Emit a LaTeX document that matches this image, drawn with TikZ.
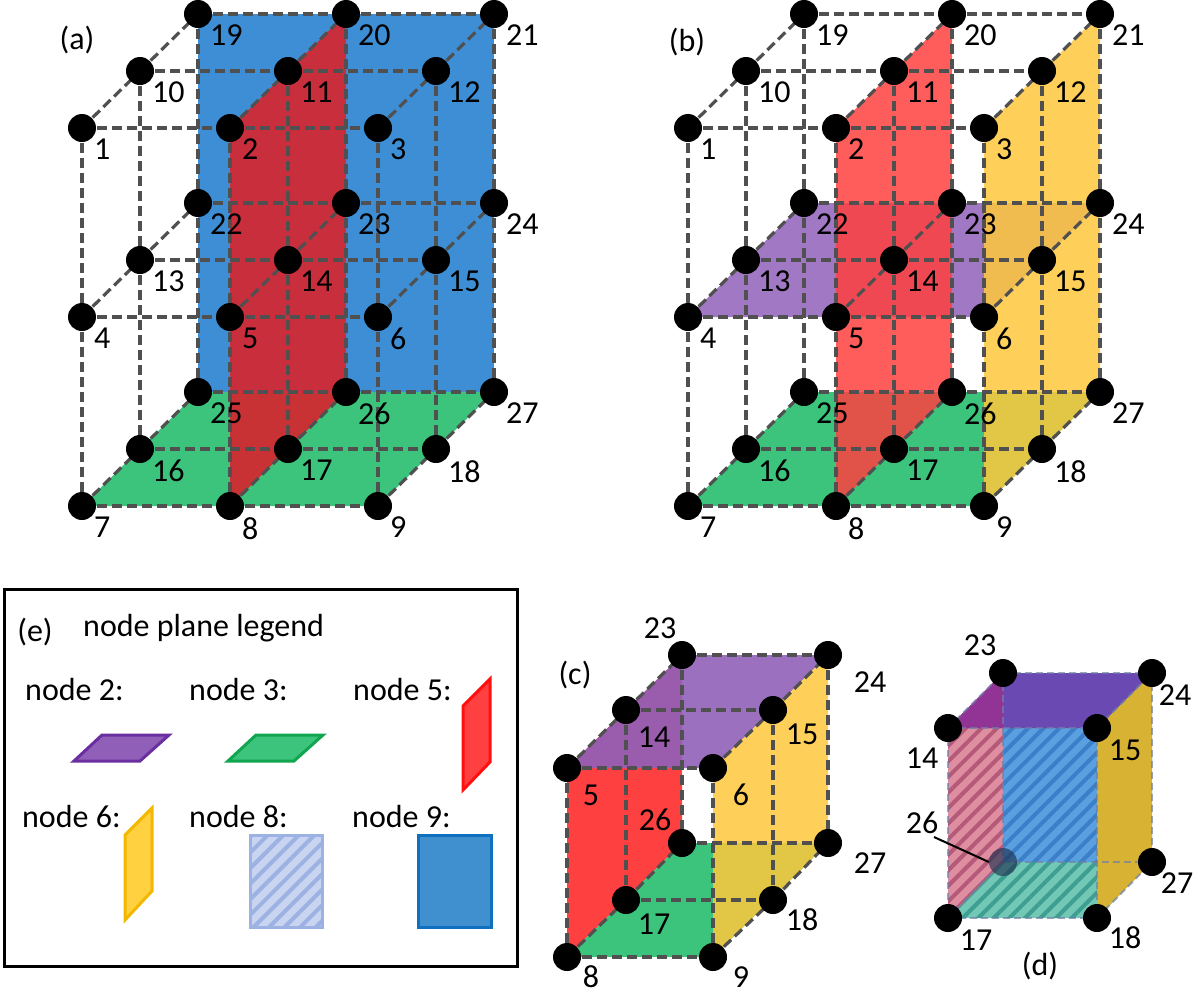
\documentclass[tikz,border=0pt]{standalone}
\usepackage{fontspec}
\setmainfont{Carlito}
\usetikzlibrary{patterns.meta}
\definecolor{ablue}{HTML}{3D8ED4}
\definecolor{ared}{HTML}{D42630}
\definecolor{agreen}{HTML}{3CC47C}
\definecolor{bred}{HTML}{FF4040}
\definecolor{bpurple}{HTML}{9060B8}
\definecolor{byellow}{HTML}{FFC83C}
\definecolor{gridc}{HTML}{505050}
\definecolor{dblue}{HTML}{5A9FE0}
\definecolor{dbluel}{HTML}{3A7FC8}
\definecolor{dgreen}{HTML}{72C8B4}
\definecolor{dgreenl}{HTML}{3E9E92}
\definecolor{dred}{HTML}{DA8296}
\definecolor{dredl}{HTML}{B45A78}
\definecolor{dyellow}{HTML}{D8B232}
\definecolor{dpurple}{HTML}{6A4AB2}
\definecolor{dmag}{HTML}{923496}
\definecolor{dedge}{HTML}{7080A8}
\definecolor{ddot}{HTML}{1E3250}
\definecolor{lpurple}{HTML}{6A2EA0}
\definecolor{lgreen}{HTML}{10A650}
\definecolor{lred}{HTML}{FF1010}
\definecolor{lyellowf}{HTML}{FFD040}
\definecolor{lyellow}{HTML}{F2B800}
\definecolor{lhf}{HTML}{C8D4F0}
\definecolor{lhs}{HTML}{9CB2E2}
\definecolor{lbluef}{HTML}{4090D0}
\definecolor{lblue}{HTML}{1070C0}
\tikzset{
  gridline/.style={draw=gridc,line width=3.2pt,dash pattern=on 10pt off 5pt},
  dot/.style={circle,fill=black,inner sep=0pt,minimum size=28pt},
  lab/.style={font=\fontsize{32}{34}\selectfont,inner sep=0pt},
  hatch/.style={pattern={Lines[angle=45,distance=11pt,line width=4pt]},pattern color=#1},
}
\begin{document}
\begin{tikzpicture}[x=1pt,y=-1pt]
\useasboundingbox (0,0) rectangle (1200,994);
% ---------- lattice coordinates
\foreach \d in {0,1,2}{\foreach \h in {0,1,2}{\foreach \c in {0,1,2}{
  \pgfmathtruncatemacro\n{1+\c+3*\h+9*\d}
  \coordinate (a\n) at ({82+148*\c+58*\d},{128+189*\h-57*\d});
  \coordinate (b\n) at ({688+148*\c+58*\d},{128+189*\h-57*\d});
}}}
% ---------- panel (a) fills
\fill[ablue] (a19) -- (a21) -- (a27) -- (a25) -- cycle;
\fill[agreen] (a7) -- (a9) -- (a27) -- (a25) -- cycle;
\fill[ared,opacity=0.92] (a2) -- (a20) -- (a26) -- (a8) -- cycle;
% ---------- panel (b) fills
\fill[agreen] (b7) -- (b9) -- (b27) -- (b25) -- cycle;
\fill[bpurple,opacity=0.85] (b4) -- (b6) -- (b24) -- (b22) -- cycle;
\fill[bred,opacity=0.85] (b2) -- (b20) -- (b26) -- (b8) -- cycle;
\fill[byellow,opacity=0.85] (b3) -- (b21) -- (b27) -- (b9) -- cycle;
% ---------- lattice lines and dots
\foreach \p in {a,b}{
\foreach \d in {0,1,2}{\foreach \h in {0,1,2}{\foreach \c in {0,1,2}{
  \pgfmathtruncatemacro\n{1+\c+3*\h+9*\d}
  \pgfmathtruncatemacro\mc{\n+1}
  \pgfmathtruncatemacro\mh{\n+3}
  \pgfmathtruncatemacro\md{\n+9}
  \ifnum\c<2 \draw[gridline] (\p\n) -- (\p\mc);\fi
  \ifnum\h<2 \draw[gridline] (\p\n) -- (\p\mh);\fi
  \ifnum\d<2 \draw[gridline] (\p\n) -- (\p\md);\fi
}}}
\foreach \n in {1,...,27}{
  \node[dot] (D\p\n) at (\p\n) {};
  \node[lab,anchor=north west] (L\p\n) at ([xshift=12pt,yshift=-11pt]D\p\n.center) {\n};
}}
\node[lab] (pa) at (77,40) {(a)};
\node[lab] (pb) at (687,42) {(b)};
% ---------- panel (c)
\coordinate (c23) at (682,655); \coordinate (c24) at (828,655);
\coordinate (c14) at (626,710); \coordinate (c15) at (773,710);
\coordinate (c5) at (567,768);  \coordinate (c6) at (713,768);
\coordinate (c26) at (682,843); \coordinate (c27) at (828,843);
\coordinate (c17) at (626,900); \coordinate (c18) at (773,900);
\coordinate (c8) at (567,957);  \coordinate (c9) at (713,957);
\fill[bred] (c5) -- (c23) -- (c26) -- (c8) -- cycle;
\fill[agreen] (c8) -- (c9) -- (c27) -- (c26) -- cycle;
\fill[bpurple,opacity=0.9] (c5) -- (c6) -- (c24) -- (c23) -- cycle;
\fill[byellow,opacity=0.85] (c6) -- (c24) -- (c27) -- (c9) -- cycle;
\foreach \u/\v in {5/6,14/15,23/24,26/27,17/18,8/9,5/8,14/17,23/26,6/9,15/18,24/27,5/14,14/23,6/15,15/24,8/17,17/26,9/18,18/27}
  \draw[gridline] (c\u) -- (c\v);
\foreach \n in {5,6,8,9,14,15,17,18,23,24,26,27} \node[dot] (Dc\n) at (c\n) {};
\node[lab] (Lc23) at (660,628) {23};
\node[lab] (Lc24) at (870,682) {24};
\node[lab] (Lc14) at (654,737) {14};
\node[lab] (Lc15) at (802,734) {15};
\node[lab] (Lc5) at (591,795) {5};
\node[lab] (Lc6) at (741,795) {6};
\node[lab] (Lc26) at (655,820) {26};
\node[lab] (Lc27) at (870,863) {27};
\node[lab] (Lc17) at (654,924) {17};
\node[lab] (Lc18) at (802,920) {18};
\node[lab] (Lc8) at (591,977) {8};
\node[lab] (Lc9) at (741,977) {9};
\node[lab] (pc) at (575,675) {(c)};
% ---------- panel (d)
\coordinate (d23) at (1003,673); \coordinate (d24) at (1152,673);
\coordinate (d14) at (948,728);  \coordinate (d15) at (1097,728);
\coordinate (d26) at (1003,862); \coordinate (d27) at (1152,862);
\coordinate (d17) at (948,918);  \coordinate (d18) at (1097,918);
\fill[dblue] (d23) -- (d24) -- (d27) -- (d26) -- cycle;
\fill[hatch=dbluel] (d23) -- (d24) -- (d27) -- (d26) -- cycle;
\fill[dgreen] (d17) -- (d18) -- (d27) -- (d26) -- cycle;
\fill[hatch=dgreenl] (d17) -- (d18) -- (d27) -- (d26) -- cycle;
\fill[dred,opacity=0.9] (d14) -- (d23) -- (d26) -- (d17) -- cycle;
\fill[hatch=dredl] (d14) -- (d23) -- (d26) -- (d17) -- cycle;
\fill[dyellow] (d15) -- (d24) -- (d27) -- (d18) -- cycle;
\fill[dpurple] (d14) -- (d15) -- (d24) -- (d23) -- cycle;
\fill[dmag] (d14) -- (d23) -- (1003,728) -- cycle;
\foreach \u/\v in {14/15,23/24,26/27,17/18,14/17,23/26,15/18,24/27,14/23,15/24,17/26,18/27}
  \draw[draw=dedge,line width=2pt,dash pattern=on 7pt off 4pt,opacity=0.7] (d\u) -- (d\v);
\foreach \n in {14,15,17,18,23,24,27} \node[dot] (Dd\n) at (d\n) {};
\node[dot,fill=ddot,opacity=0.65] (Dd26) at (d26) {};
\node[lab] (Ld23) at (980,645) {23};
\node[lab] (Ld24) at (1175,695) {24};
\node[lab] (Ld14) at (922,758) {14};
\node[lab] (Ld15) at (1125,750) {15};
\node[lab] (Ld26) at (922,823) {26};
\node[lab] (Ld27) at (1177,883) {27};
\node[lab] (Ld17) at (976,940) {17};
\node[lab] (Ld18) at (1125,938) {18};
\coordinate (lk) at (934,837);
\draw[line width=2pt] (lk) -- (Dd26.west);
\node[lab] (pd) at (1040,966) {(d)};
% ---------- panel (e) legend
\node[draw=black,line width=3pt,minimum width=513pt,minimum height=377pt,anchor=north west,inner sep=0pt] (legend) at (3,588) {};
\node[lab] (pe) at (35,632) {(e)};
\node[lab,anchor=west] (title) at (83,628) {node plane legend};
\node[lab,anchor=west] (n2) at (25,690) {node 2:};
\node[lab,anchor=west] (n3) at (189,690) {node 3:};
\node[lab,anchor=west] (n5) at (353,690) {node 5:};
\node[lab,anchor=west] (n6) at (22,817) {node 6:};
\node[lab,anchor=west] (n8) at (189,817) {node 8:};
\node[lab,anchor=west] (n9) at (352,817) {node 9:};
\filldraw[fill=bpurple,draw=lpurple,line width=3pt] (74,761) -- (140,761) -- (169,735) -- (102,735) -- cycle;
\filldraw[fill=agreen,draw=lgreen,line width=3pt] (228,761) -- (294,761) -- (323,735) -- (256,735) -- cycle;
\filldraw[fill=bred,draw=lred,line width=3pt] (463,706) -- (490,679) -- (490,762) -- (463,790) -- cycle;
\filldraw[fill=lyellowf,draw=lyellow,line width=3pt] (125,835) -- (152,808) -- (152,891) -- (125,920) -- cycle;
\fill[lhf] (250,835) rectangle (322,927);
\fill[hatch=lhs] (250,835) rectangle (322,927);
\draw[lhs,line width=3pt] (250,835) rectangle (322,927);
\filldraw[fill=lbluef,draw=lblue,line width=3pt] (418,835) rectangle (491,927);
\end{tikzpicture}
\end{document}
